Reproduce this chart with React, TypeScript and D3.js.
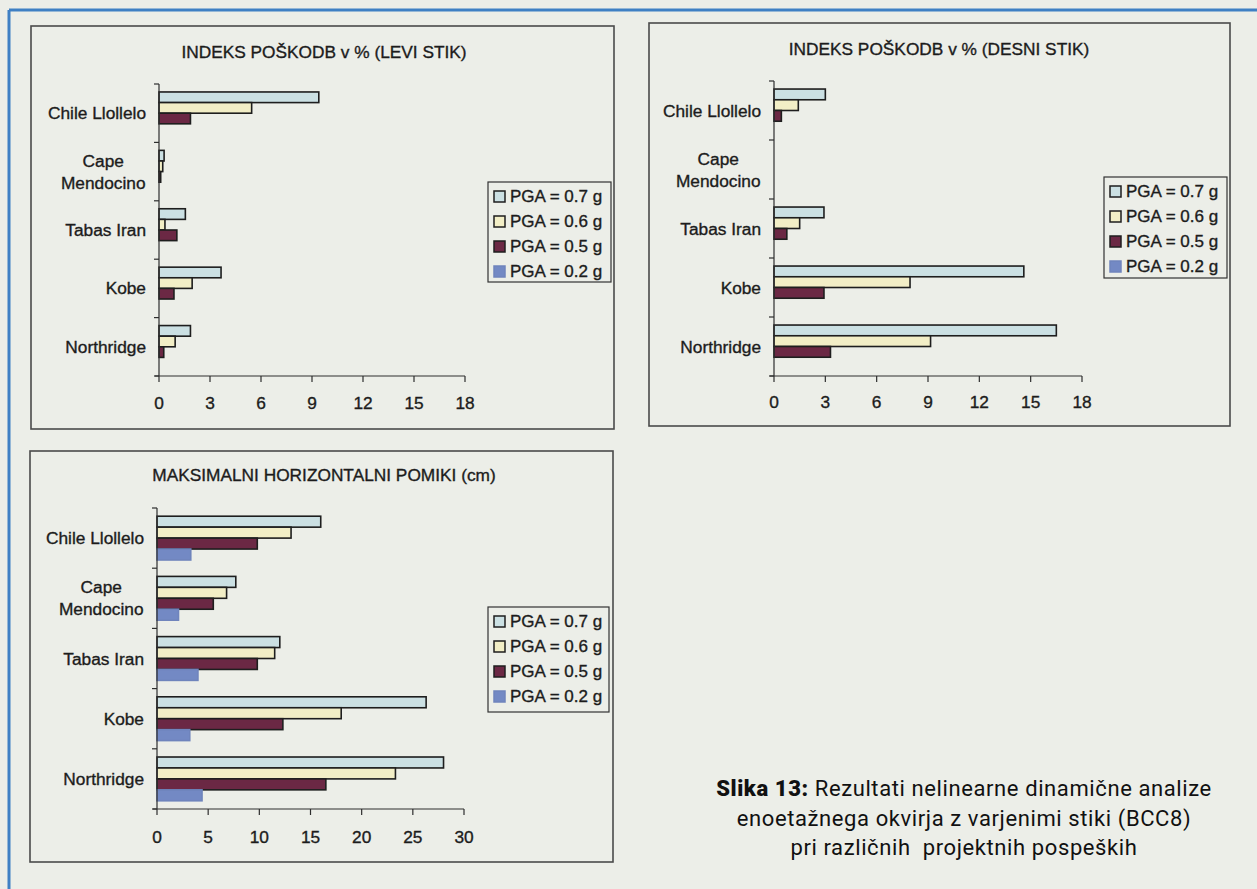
import React from "react";
import * as d3 from "d3";

// Earthquake records (category axis, top to bottom)
const categories = ["Chile Llollelo", "Cape\nMendocino", "Tabas Iran", "Kobe", "Northridge"];

// Design peak ground accelerations (series, top bar to bottom bar)
const seriesNames = ["PGA = 0.7 g", "PGA = 0.6 g", "PGA = 0.5 g", "PGA = 0.2 g"];

// Damage index in % – left joint
const leviPga07 = [9.4, 0.3, 1.55, 3.65, 1.85];
const leviPga06 = [5.45, 0.22, 0.35, 1.95, 0.95];
const leviPga05 = [1.85, 0.1, 1.05, 0.88, 0.28];
const leviPga02 = [0, 0, 0, 0, 0];

// Damage index in % – right joint
const desniPga07 = [3.0, 0, 2.92, 14.6, 16.5];
const desniPga06 = [1.42, 0, 1.5, 7.95, 9.15];
const desniPga05 = [0.43, 0, 0.75, 2.92, 3.3];
const desniPga02 = [0, 0, 0, 0, 0];

// Maximum horizontal displacement in cm
const pomikiPga07 = [16.0, 7.7, 12.0, 26.3, 28.0];
const pomikiPga06 = [13.1, 6.8, 11.5, 18.0, 23.3];
const pomikiPga05 = [9.8, 5.5, 9.8, 12.3, 16.5];
const pomikiPga02 = [3.3, 2.1, 4.0, 3.2, 4.4];

// Axis ticks
const indexTicks = [0, 3, 6, 9, 12, 15, 18];
const displacementTicks = [0, 5, 10, 15, 20, 25, 30];

const titleLevi = "INDEKS POŠKODB v % (LEVI STIK)";
const titleDesni = "INDEKS POŠKODB v % (DESNI STIK)";
const titlePomiki = "MAKSIMALNI HORIZONTALNI POMIKI (cm)";

const captionBold = "Slika 13:";
const captionLines = [
  " Rezultati nelinearne dinamične analize",
  "enoetažnega okvirja z varjenimi stiki (BCC8)",
  "pri različnih\u00a0 projektnih pospeških",
];

// Styling
const PAPER = "#eceee8";
const INK = "#1c1c1c";
const AXIS = "#2e2e2e";
const BLUE = "#3f80c4";
const seriesFill = ["#cbe0e3", "#f2eec6", "#6b2844", "#7389c4"];
const seriesStroke = ["#1e1e1e", "#1e1e1e", "#1e1e1e", "#6f84bc"];
const FONT = "'Liberation Sans', Arial, sans-serif";
const FS = 17.3;
const textInk = { fill: INK, stroke: INK, strokeWidth: 0.35 };

type Panel = {
  box: { x: number; y: number; w: number; h: number };
  title: string;
  titleX: number;
  titleY: number;
  plot: { left: number; right: number; top: number; bottom: number };
  max: number;
  ticks: number[];
  tickLabelY: number;
  series: number[][];
  legend: { x: number; y: number; w: number; h: number };
};

function BarPanel({ p }: { p: Panel }) {
  const x = d3.scaleLinear().domain([0, p.max]).range([p.plot.left, p.plot.right]);
  const y = d3.scaleBand<string>().domain(categories).range([p.plot.top, p.plot.bottom]);
  const ys = d3
    .scaleBand<string>()
    .domain(seriesNames)
    .range([0, y.bandwidth()])
    .paddingInner(0)
    .paddingOuter(0.75);
  const boundaries = categories.map((c) => y(c) as number).concat([p.plot.bottom]);

  return (
    <g>
      <rect
        x={p.box.x}
        y={p.box.y}
        width={p.box.w}
        height={p.box.h}
        fill="none"
        stroke="#4a4a4a"
        strokeWidth={1.6}
      />
      <text
        x={p.titleX}
        y={p.titleY}
        textAnchor="middle"
        dominantBaseline="central"
        fontSize={FS}
        {...textInk}
      >
        {p.title}
      </text>

      {/* bars */}
      {categories.map((c, ci) =>
        seriesNames.map((s, si) => {
          const v = p.series[si][ci];
          if (!v) return null;
          return (
            <rect
              key={c + s}
              x={x(0)}
              y={(y(c) as number) + (ys(s) as number)}
              width={x(v) - x(0)}
              height={ys.bandwidth()}
              fill={seriesFill[si]}
              stroke={seriesStroke[si]}
              strokeWidth={1.6}
            />
          );
        })
      )}

      {/* category axis */}
      <line x1={x(0)} x2={x(0)} y1={p.plot.top} y2={p.plot.bottom} stroke={AXIS} strokeWidth={1.2} />
      {boundaries.map((b, i) => (
        <line key={"yt" + i} x1={x(0) - 5} x2={x(0)} y1={b} y2={b} stroke={AXIS} strokeWidth={1.2} />
      ))}
      {categories.map((c) => {
        const lines = c.split("\n");
        const cy = (y(c) as number) + y.bandwidth() / 2;
        const lh = 22;
        if (lines.length === 1) {
          return (
            <text
              key={"cl" + c}
              x={x(0) - 13}
              y={cy}
              textAnchor="end"
              dominantBaseline="central"
              fontSize={FS}
              {...textInk}
            >
              {c}
            </text>
          );
        }
        // wrapped label: lines centred on each other, block right-aligned
        const widest = Math.max(...lines.map((l) => l.length));
        const blockCenter = x(0) - 13 - widest * 4.75;
        return (
          <g key={"cl" + c}>
            {lines.map((l, li) => (
              <text
                key={l}
                x={blockCenter}
                y={cy + (li - (lines.length - 1) / 2) * lh}
                textAnchor="middle"
                dominantBaseline="central"
                fontSize={FS}
                {...textInk}
              >
                {l}
              </text>
            ))}
          </g>
        );
      })}

      {/* value axis */}
      <line x1={x(0) - 4} x2={x(p.max)} y1={p.plot.bottom} y2={p.plot.bottom} stroke={AXIS} strokeWidth={1.2} />
      {p.ticks.map((t) => (
        <g key={"xt" + t}>
          <line x1={x(t)} x2={x(t)} y1={p.plot.bottom} y2={p.plot.bottom + 6} stroke={AXIS} strokeWidth={1.2} />
          <text
            x={x(t)}
            y={p.tickLabelY}
            textAnchor="middle"
            dominantBaseline="central"
            fontSize={FS}
            {...textInk}
          >
            {t}
          </text>
        </g>
      ))}

      {/* legend */}
      <rect
        x={p.legend.x}
        y={p.legend.y}
        width={p.legend.w}
        height={p.legend.h}
        fill={PAPER}
        stroke="#333"
        strokeWidth={1.2}
      />
      {seriesNames.map((s, si) => {
        const ey = p.legend.y + 14.5 + si * 25;
        return (
          <g key={"lg" + s}>
            <rect
              x={p.legend.x + 6}
              y={ey - 5.5}
              width={11}
              height={11}
              fill={seriesFill[si]}
              stroke={seriesStroke[si]}
              strokeWidth={1.5}
            />
            <text
              x={p.legend.x + 22}
              y={ey}
              dominantBaseline="central"
              fontSize={17}
              {...textInk}
            >
              {s}
            </text>
          </g>
        );
      })}
    </g>
  );
}

const panels: Panel[] = [
  {
    box: { x: 31, y: 26, w: 583, h: 403 },
    title: titleLevi,
    titleX: 324,
    titleY: 52,
    plot: { left: 159, right: 465, top: 84, bottom: 376 },
    max: 18,
    ticks: indexTicks,
    tickLabelY: 403,
    series: [leviPga07, leviPga06, leviPga05, leviPga02],
    legend: { x: 488, y: 182, w: 123, h: 100 },
  },
  {
    box: { x: 649, y: 23, w: 581, h: 403 },
    title: titleDesni,
    titleX: 939,
    titleY: 49,
    plot: { left: 774, right: 1082, top: 81, bottom: 376 },
    max: 18,
    ticks: indexTicks,
    tickLabelY: 402,
    series: [desniPga07, desniPga06, desniPga05, desniPga02],
    legend: { x: 1104, y: 177, w: 123, h: 101 },
  },
  {
    box: { x: 30, y: 451, w: 583, h: 411 },
    title: titlePomiki,
    titleX: 324,
    titleY: 475,
    plot: { left: 157, right: 464, top: 508, bottom: 809 },
    max: 30,
    ticks: displacementTicks,
    tickLabelY: 837,
    series: [pomikiPga07, pomikiPga06, pomikiPga05, pomikiPga02],
    legend: { x: 488, y: 607, w: 121, h: 105 },
  },
];

export default function App() {
  const W = 1257;
  const H = 889;
  return (
    <div style={{ position: "fixed", left: 0, top: 0, width: W, height: H, overflow: "hidden" }}>
      <svg width={W} height={H} viewBox={`0 0 ${W} ${H}`} style={{ display: "block", fontFamily: FONT }}>
        <rect x={0} y={0} width={W} height={H} fill={PAPER} />
        {/* page frame */}
        <line x1={9} x2={W} y1={10} y2={10} stroke={BLUE} strokeWidth={3} />
        <line x1={9} x2={9} y1={10} y2={H} stroke={BLUE} strokeWidth={3} />

        {panels.map((p, i) => (
          <BarPanel key={i} p={p} />
        ))}

        {/* figure caption */}
        <g
          fontFamily="Roboto, 'DejaVu Sans', sans-serif"
          fontSize={22}
          letterSpacing={0.6}
          fill="#111"
          textAnchor="middle"
        >
          <text x={964} y={788} dominantBaseline="central">
            <tspan fontWeight={900}>{captionBold}</tspan>
            <tspan>{captionLines[0]}</tspan>
          </text>
          <text x={964} y={818} dominantBaseline="central">
            {captionLines[1]}
          </text>
          <text x={964} y={847} dominantBaseline="central">
            {captionLines[2]}
          </text>
        </g>
      </svg>
    </div>
  );
}
